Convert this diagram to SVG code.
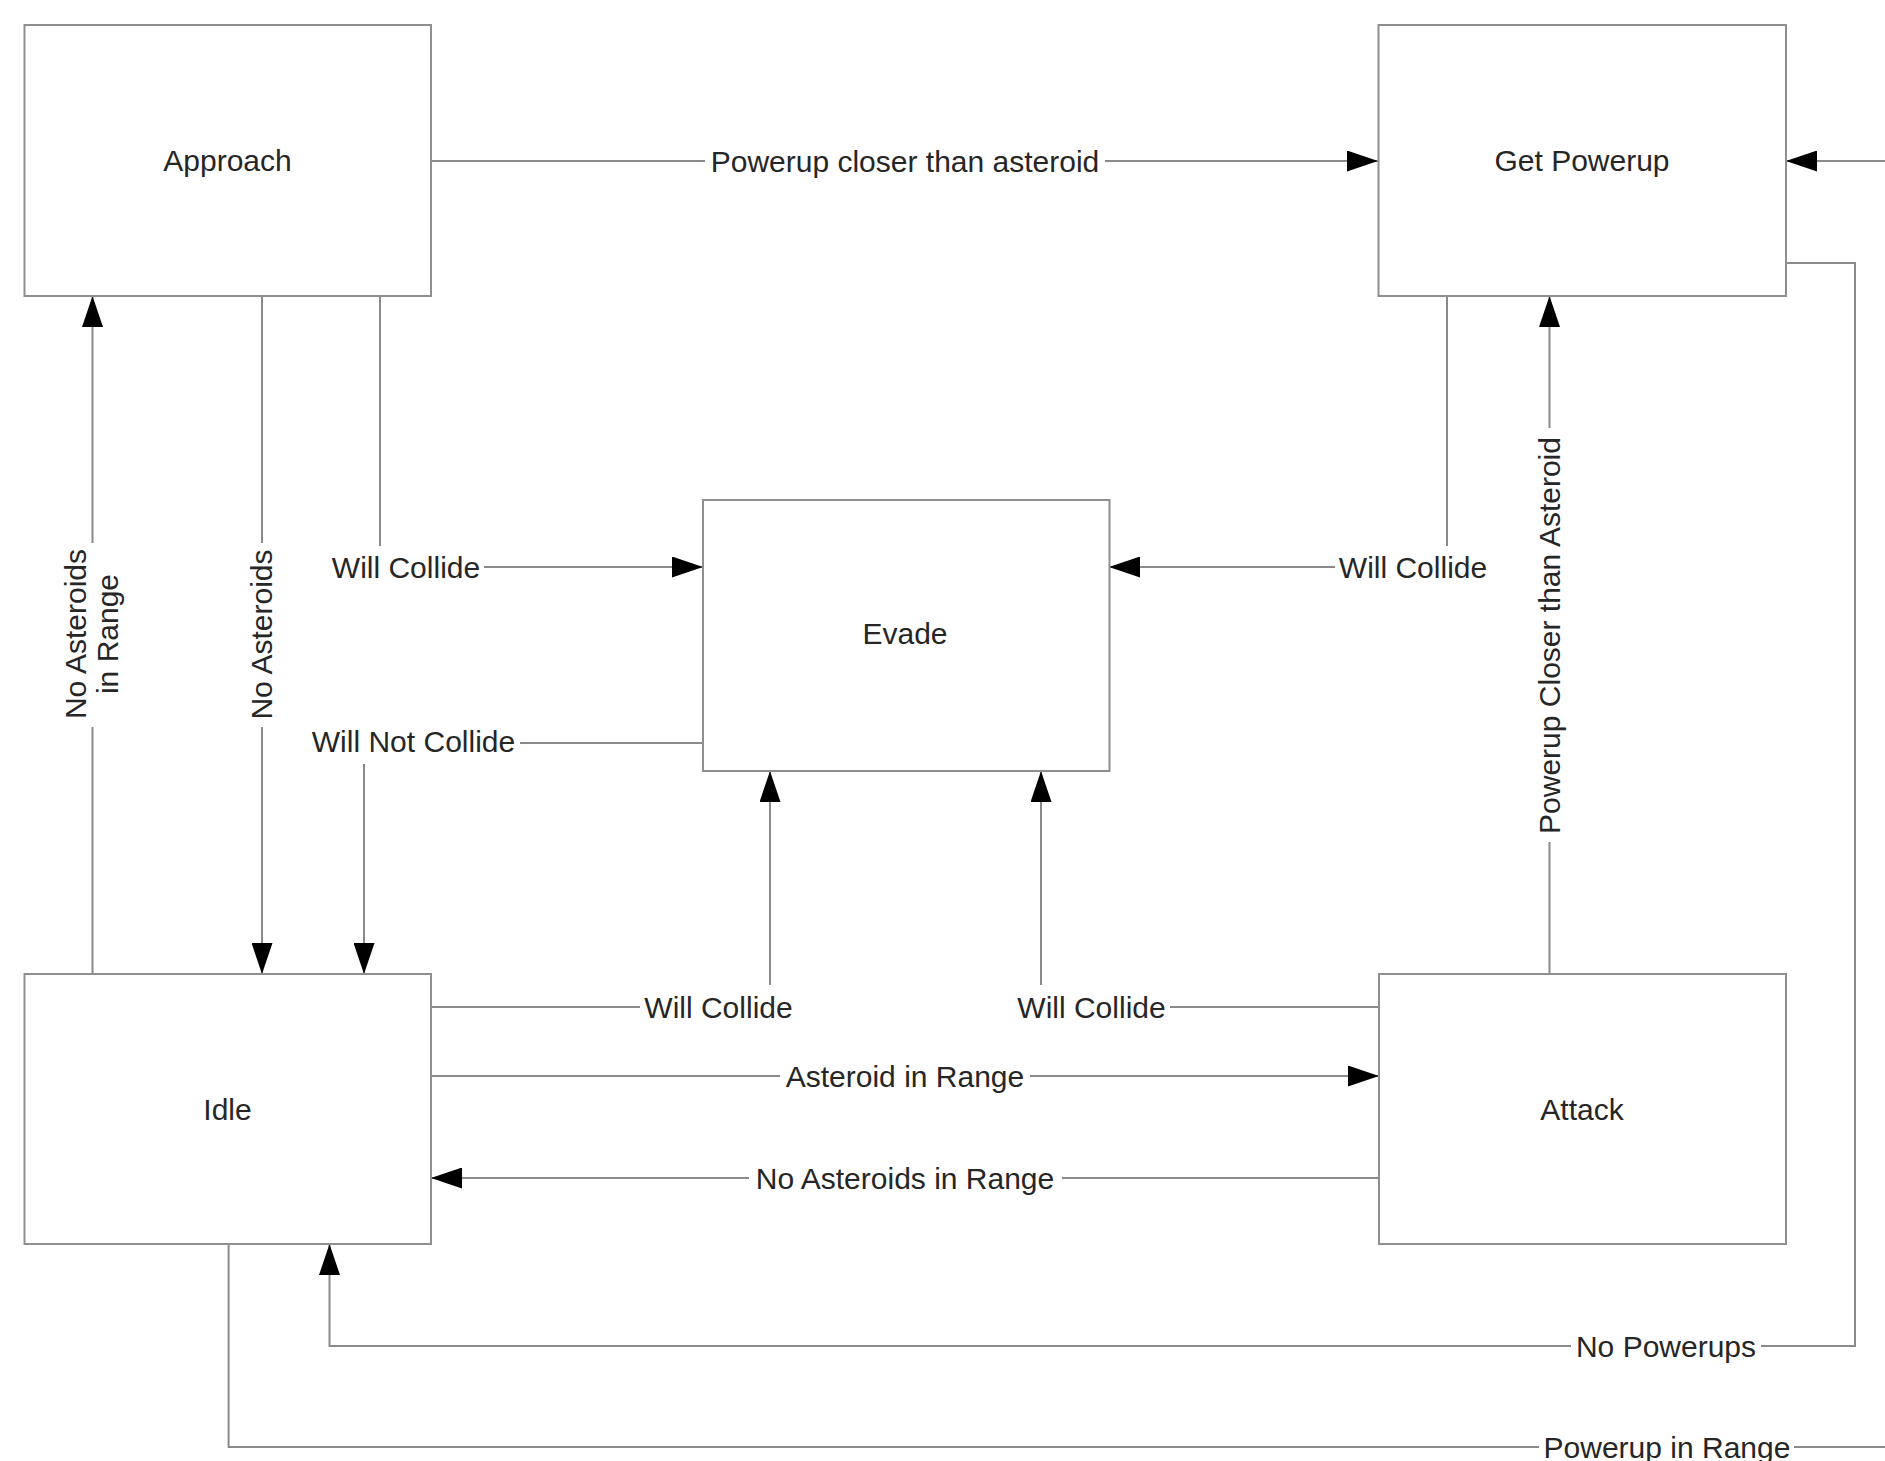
<svg xmlns="http://www.w3.org/2000/svg" width="1885" height="1461" viewBox="0 0 1885 1461">
  <style>
    .box { fill: #ffffff; stroke: #8f8f8f; stroke-width: 2; }
    .wire { fill: none; stroke: #8a8a8a; stroke-width: 2; }
    .arrow { marker-end: url(#head); }
    .txt { font-family: "Liberation Sans", Arial, sans-serif; font-size: 30px; fill: #262626; text-anchor: middle; }
    .bg { fill: #ffffff; }
  </style>
  <defs>
    <marker id="head" markerUnits="userSpaceOnUse" markerWidth="31" markerHeight="21" refX="31" refY="10.5" orient="auto">
      <path d="M0,0 L31,10.5 L0,21 Z" fill="#000000"/>
    </marker>
  </defs>

  <rect width="1885" height="1461" fill="#ffffff"/>

  <!-- transitions -->
  <g id="connectors">
    <path class="wire arrow" d="M431,161 H1378"/>
    <path class="wire arrow" d="M380,296 V567 H703"/>
    <path class="wire arrow" d="M262,296 V974"/>
    <path class="wire arrow" d="M92.5,974 V296"/>
    <path class="wire arrow" d="M703,743 H364 V974"/>
    <path class="wire arrow" d="M1447,296 V567 H1109"/>
    <path class="wire arrow" d="M1549.5,974 V296"/>
    <path class="wire arrow" d="M431,1007 H770 V771"/>
    <path class="wire arrow" d="M1379,1007 H1041 V771"/>
    <path class="wire arrow" d="M431,1076 H1379"/>
    <path class="wire arrow" d="M1379,1178 H431"/>
    <path class="wire arrow" d="M1786,263 H1855 V1346 H329.5 V1244"/>
    <path class="wire arrow" d="M228.6,1244 V1447 H1900 V161 H1786"/>

    <!-- transition labels -->
    <g id="labels">
      <rect class="bg" x="705" y="144" width="400" height="36"/>
      <text class="txt" x="905" y="171.5">Powerup closer than asteroid</text>

      <rect class="bg" x="328" y="546" width="156" height="42"/>
      <text class="txt" x="406" y="577.5">Will Collide</text>

      <rect class="bg" x="307" y="722" width="213" height="42"/>
      <text class="txt" x="413.5" y="751.5">Will Not Collide</text>

      <rect class="bg" x="1335" y="546" width="156" height="42"/>
      <text class="txt" x="1413" y="577.5">Will Collide</text>

      <rect class="bg" x="640" y="985" width="157" height="42"/>
      <text class="txt" x="718.5" y="1017.5">Will Collide</text>

      <rect class="bg" x="1013" y="985" width="157" height="42"/>
      <text class="txt" x="1091.5" y="1017.5">Will Collide</text>

      <rect class="bg" x="780" y="1058" width="250" height="36"/>
      <text class="txt" x="905" y="1086.5">Asteroid in Range</text>

      <rect class="bg" x="749" y="1160" width="313" height="36"/>
      <text class="txt" x="905" y="1188.5">No Asteroids in Range</text>

      <rect class="bg" x="1571" y="1328" width="190" height="36"/>
      <text class="txt" x="1666" y="1356.5">No Powerups</text>

      <rect class="bg" x="1539" y="1429" width="255" height="32"/>
      <text class="txt" x="1667" y="1457.5">Powerup in Range</text>

      <rect class="bg" x="58" y="543" width="70" height="184"/>
      <text class="txt" transform="translate(92.5,634) rotate(-90)" x="0" y="-7">No Asteroids</text>
      <text class="txt" transform="translate(92.5,634) rotate(-90)" x="0" y="25">in Range</text>

      <rect class="bg" x="244" y="543" width="36" height="184"/>
      <text class="txt" transform="translate(261.7,634.5) rotate(-90)" x="0" y="10.5">No Asteroids</text>

      <rect class="bg" x="1531" y="428" width="37" height="414"/>
      <text class="txt" transform="translate(1549.5,635.5) rotate(-90)" x="0" y="10.5">Powerup Closer than Asteroid</text>
    </g>
  </g>

  <!-- states -->
  <g id="approach">
    <rect class="box" x="24.5" y="25" width="406.5" height="271"/>
    <text class="txt" x="227.5" y="171">Approach</text>
  </g>
  <g id="get-powerup">
    <rect class="box" x="1378.5" y="25" width="407.5" height="271"/>
    <text class="txt" x="1582" y="171">Get Powerup</text>
  </g>
  <g id="evade">
    <rect class="box" x="703" y="500" width="406.5" height="271"/>
    <text class="txt" x="905" y="644">Evade</text>
  </g>
  <g id="idle">
    <rect class="box" x="24.5" y="974" width="406.5" height="270"/>
    <text class="txt" x="227.5" y="1119.5">Idle</text>
  </g>
  <g id="attack">
    <rect class="box" x="1379" y="974" width="407" height="270"/>
    <text class="txt" x="1582" y="1119.5">Attack</text>
  </g>
</svg>
